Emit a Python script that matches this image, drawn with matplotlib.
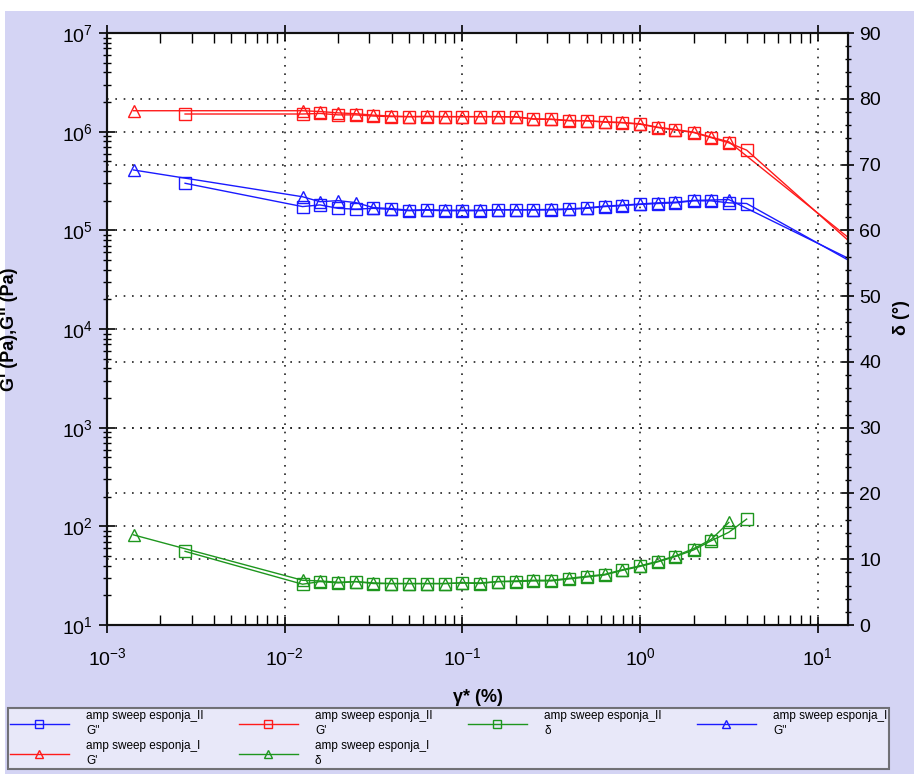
import matplotlib
matplotlib.use('Agg')
import matplotlib.pyplot as plt
from matplotlib.ticker import LogLocator, MultipleLocator, NullFormatter
from matplotlib.patches import Rectangle

plt.rcParams['font.family'] = ['Liberation Sans', 'DejaVu Sans']
plt.rcParams['mathtext.default'] = 'regular'

# strain steps shared by both samples (0.0126 .. 3.16 %)
x_mid = [0.0126, 0.0158, 0.02, 0.0251, 0.0316, 0.0398, 0.0501, 0.0631, 0.0794, 0.1,
         0.126, 0.158, 0.2, 0.251, 0.316, 0.398, 0.501, 0.631, 0.794, 1.0,
         1.26, 1.58, 2.0, 2.51, 3.16]

# sample II (squares)
x_II = [0.00275] + x_mid + [3.98, 20.0]
Gp_II = [1.51e6, 1.51e6, 1.53e6, 1.48e6, 1.48e6, 1.44e6, 1.42e6, 1.42e6, 1.42e6, 1.42e6,
         1.42e6, 1.42e6, 1.42e6, 1.41e6, 1.34e6, 1.33e6, 1.29e6, 1.29e6, 1.25e6, 1.23e6,
         1.19e6, 1.10e6, 1.04e6, 9.8e5, 8.7e5, 7.7e5, 6.5e5, 4.9e4]
Gpp_II = [3.0e5, 1.74e5, 1.81e5, 1.67e5, 1.64e5, 1.67e5, 1.63e5, 1.58e5, 1.6e5, 1.58e5,
          1.58e5, 1.58e5, 1.61e5, 1.61e5, 1.61e5, 1.61e5, 1.63e5, 1.67e5, 1.74e5, 1.78e5,
          1.83e5, 1.87e5, 1.90e5, 1.99e5, 1.99e5, 1.9e5, 1.87e5, 3.7e4]
delta_II = [11.2, 6.2, 6.6, 6.4, 6.6, 6.3, 6.3, 6.3, 6.3, 6.3,
            6.4, 6.3, 6.6, 6.6, 6.7, 6.7, 7.0, 7.3, 7.6, 8.3,
            8.9, 9.6, 10.4, 11.4, 12.8, 14.1, 16.1]

# sample I (triangles)
x_I = [0.00141] + x_mid + [20.0]
Gp_I = [1.63e6, 1.63e6, 1.6e6, 1.55e6, 1.52e6, 1.47e6, 1.44e6, 1.42e6, 1.43e6, 1.42e6,
        1.42e6, 1.42e6, 1.42e6, 1.41e6, 1.35e6, 1.34e6, 1.30e6, 1.29e6, 1.26e6, 1.24e6,
        1.20e6, 1.11e6, 1.05e6, 9.9e5, 8.8e5, 7.9e5, 5.5e4]
Gpp_I = [4.09e5, 2.19e5, 1.95e5, 2.0e5, 1.91e5, 1.7e5, 1.66e5, 1.6e5, 1.62e5, 1.6e5,
         1.6e5, 1.6e5, 1.62e5, 1.62e5, 1.62e5, 1.63e5, 1.65e5, 1.69e5, 1.76e5, 1.8e5,
         1.85e5, 1.9e5, 1.93e5, 2.01e5, 2.03e5, 2.05e5, 4.0e4]
delta_I = [13.7, 6.8, 6.7, 6.5, 6.6, 6.4, 6.3, 6.3, 6.3, 6.3,
           6.4, 6.4, 6.6, 6.7, 6.8, 6.8, 7.1, 7.4, 7.7, 8.4,
           9.0, 9.7, 10.5, 11.6, 13.0, 15.6]

red = '#ff1a1a'
blue = '#1a1aff'
green = '#1e961e'

fig = plt.figure(figsize=(9.14, 7.74), dpi=100)
fig.patch.set_facecolor('white')
fig.patches.append(Rectangle((5/914, 0), 1, 1 - 11/774, transform=fig.transFigure,
                             facecolor='#d4d4f4', edgecolor='none', zorder=-10))

ax = fig.add_axes([107/914, 1 - 625/774, (848 - 107)/914, (625 - 33)/774])
ax.set_facecolor('white')
ax2 = ax.twinx()

mk = dict(markersize=8.5, markerfacecolor='none', markeredgewidth=1.0, linewidth=1.0)
l1, = ax.plot(x_II, Gpp_II, marker='s', color=blue, label="amp sweep esponja_II\nG''", **mk)
l2, = ax.plot(x_II, Gp_II, marker='s', color=red, label="amp sweep esponja_II\nG'", **mk)
l4, = ax.plot(x_I, Gpp_I, marker='^', color=blue, label="amp sweep esponja_I\nG''", **mk)
l5, = ax.plot(x_I, Gp_I, marker='^', color=red, label="amp sweep esponja_I\nG'", **mk)
l3, = ax2.plot(x_II[:len(delta_II)], delta_II, marker='s', color=green,
               label="amp sweep esponja_II\nδ", **mk)
l6, = ax2.plot(x_I[:len(delta_I)], delta_I, marker='^', color=green,
               label="amp sweep esponja_I\nδ", **mk)

ax.set_xscale('log')
ax.set_yscale('log')
ax.set_xlim(1e-3, 14.8)
ax.set_ylim(10, 1e7)
ax2.set_ylim(0, 90)

ax.xaxis.set_major_locator(LogLocator(base=10, numticks=10))
ax.xaxis.set_minor_locator(LogLocator(base=10, subs=range(2, 10), numticks=20))
ax.xaxis.set_minor_formatter(NullFormatter())
ax.yaxis.set_major_locator(LogLocator(base=10, numticks=10))
ax.yaxis.set_minor_locator(LogLocator(base=10, subs=range(2, 10), numticks=20))
ax.yaxis.set_minor_formatter(NullFormatter())
ax2.yaxis.set_major_locator(MultipleLocator(10))
ax2.yaxis.set_minor_locator(MultipleLocator(2))

grid_style = dict(linestyle=(0, (1, 4)), color='#222222', linewidth=1.2)
ax.grid(True, which='major', axis='both', **grid_style)
ax2.grid(True, which='major', axis='y', **grid_style)

ax.tick_params(axis='y', which='major', direction='inout', length=12, width=1.2,
               labelsize=14, pad=4, right=False)
ax.tick_params(axis='y', which='minor', direction='inout', length=6, width=1, right=False)
ax.tick_params(axis='x', which='major', direction='inout', length=12, width=1.2,
               labelsize=14, pad=10, top=True)
ax.tick_params(axis='x', which='minor', direction='in', length=7, width=1, top=True)
ax2.tick_params(axis='y', which='major', direction='inout', length=8, width=1.2,
                labelsize=14, pad=4)
ax2.tick_params(axis='y', which='minor', direction='inout', length=4, width=1)

for a in (ax, ax2):
    for s in a.spines.values():
        s.set_linewidth(1.5)
        s.set_color('#111111')

ax.set_xlabel('γ* (%)', fontsize=13, fontweight='bold', labelpad=14)
ax.set_ylabel("G' (Pa),G'' (Pa)", fontsize=13, fontweight='bold')
ax.yaxis.set_label_coords(-(107 - 18)/741, 0.5)
ax2.set_ylabel('δ (°)', fontsize=13, fontweight='bold', rotation=90, va='center')
ax2.yaxis.set_label_coords((902 - 107)/741, 0.52)

handles = [l1, l5, l2, l6, l3, l4]
leg = fig.legend(handles, [h.get_label() for h in handles], loc='upper left',
                 bbox_to_anchor=(8/914, 1 - 708/774), ncol=4,
                 prop={'family': ['Liberation Sans Narrow', 'Liberation Sans'], 'size': 8.5},
                 handlelength=5.0, handletextpad=1.45, columnspacing=3.0,
                 borderaxespad=0, borderpad=0.15, labelspacing=0.2,
                 markerscale=0.7, fancybox=False, frameon=True)
for t in leg.get_texts():
    t.set_linespacing(1.4)
leg.get_frame().set_facecolor('#eeeefb')
leg.get_frame().set_edgecolor('#555555')
leg.get_frame().set_linewidth(1.5)

fig.savefig('out.png', dpi=100)
